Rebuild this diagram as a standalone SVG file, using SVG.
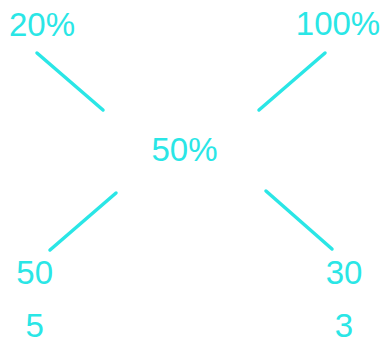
<svg xmlns="http://www.w3.org/2000/svg" width="386" height="345" viewBox="0 0 386 345">
<style>
.t{font-family:"Liberation Sans",Arial,sans-serif;font-size:33px;fill:#2ae6e6;text-anchor:middle}
.c{stroke:#2ae6e6;stroke-width:3.5;stroke-linecap:round;fill:none}
</style>
<rect width="386" height="345" fill="#ffffff"/>
<g id="connectors">
<line class="c" x1="37" y1="53" x2="103" y2="110"/>
<line class="c" x1="325" y1="53" x2="259" y2="110"/>
<line class="c" x1="116" y1="193" x2="50" y2="250"/>
<line class="c" x1="266" y1="191" x2="332" y2="249"/>
</g>
<g id="n20"><text class="t" x="42" y="36">20%</text></g>
<g id="n100"><text class="t" x="338" y="35">100%</text></g>
<g id="n50p"><text class="t" x="184.5" y="161">50%</text></g>
<g id="n50"><text class="t" x="34.7" y="284">50</text><text class="t" x="34.7" y="337">5</text></g>
<g id="n30"><text class="t" x="344" y="283.5">30</text><text class="t" x="344" y="337">3</text></g>
</svg>
